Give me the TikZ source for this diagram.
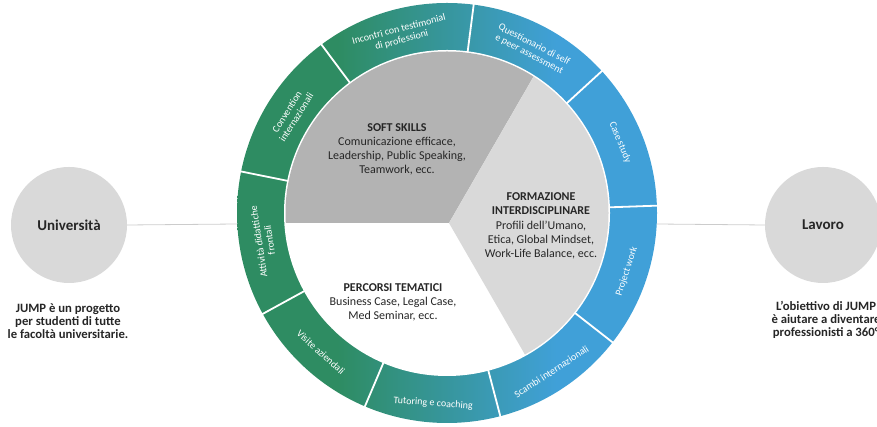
\documentclass[tikz,border=0pt]{standalone}
\usepackage{fontspec}
\setmainfont{Carlito}
\usetikzlibrary{calc}
\definecolor{ringgreen}{HTML}{2E8C62}
\definecolor{ringblue}{HTML}{40A0D8}
\definecolor{darkg}{HTML}{B3B3B3}
\definecolor{lightg}{HTML}{D9D9D9}
\definecolor{circg}{HTML}{D9D9D9}
\definecolor{lineg}{HTML}{CCCCCC}
\definecolor{txt}{HTML}{262626}
\pgfdeclarehorizontalshading{ringshade}{100bp}{color(0bp)=(ringgreen); color(37bp)=(ringgreen); color(63bp)=(ringblue); color(100bp)=(ringblue)}
\tikzset{
  sidecircle/.style={circle, fill=circg, minimum size=116pt, inner sep=0pt, text=txt, font=\fontsize{15}{17}\selectfont\bfseries},
  sidetext/.style={align=center, inner sep=0pt, text=txt, font=\fontsize{12.7}{13}\selectfont\bfseries},
  conn/.style={draw=lineg, line width=0.8pt},
  divider/.style={draw=white, line width=1.8pt},
  pietext/.style={align=center, inner sep=0pt, text=txt, font=\fontsize{12}{14.2}\selectfont},
  seglabel/.style={align=center, inner sep=0pt, text=white, font=\fontsize{10}{11}\selectfont}
}
\begin{document}
\begin{tikzpicture}[x=1pt,y=1pt]
\clip (0,0) rectangle (877,427);
\coordinate (C) at (447,214);
\coordinate (V) at (449,204);
% side circles
\node[sidecircle] (uni) at (69,202) {Università};
\node[sidecircle] (lav) at (823,202) {Lavoro};
\coordinate (ringL) at (237.3,203);
\coordinate (ringR) at (656.7,203);
\draw[conn] (uni.east) -- (ringL);
\draw[conn] (ringR) -- (lav.west);
\node[sidetext] (unitxt) at (68,106) {JUMP è un progetto\\per studenti di tutte\\le facoltà universitarie.};
\node[sidetext] (lavtxt) at (826,107) {L’obiettivo di JUMP\\è aiutare a diventare\\professionisti a 360°};
% ring
\shade[shading=ringshade] (C) circle (210);
\fill[white] (C) circle (163);
\begin{scope}
  \clip (C) circle (161.5);
  \fill[darkg] (V) -- +(60:400) -- +(120:400) -- +(180:400) -- cycle;
  \fill[lightg] (V) -- +(60:400) -- +(0:400) -- +(-60:400) -- cycle;
\end{scope}
\foreach \a in {82.7,42.5,2,-38,-75.3,-113,-151.3,168.6,126.7}
  \draw[divider] ([shift={(\a:162)}]C) -- ([shift={(\a:213)}]C);
% segment labels
\node[seglabel, rotate=14.7] (s1) at ([shift={(104.7:184)}]C) {Incontri con testimonial\\di professioni};
\node[seglabel, rotate=-27.4] (s2) at ([shift={(62.6:184)}]C) {Questionario di self\\e peer assessment};
\node[seglabel, rotate=-67.75] (s3) at ([shift={(22.25:187)}]C) {Case study};
\node[seglabel, rotate=72] (s4) at ([shift={(-18:189)}]C) {Project work};
\node[seglabel, rotate=33.35] (s5) at ([shift={(-56.65:190)}]C) {Scambi internazionali};
\node[seglabel, rotate=-4.15] (s6) at ([shift={(-94.15:191)}]C) {Tutoring e coaching};
\node[seglabel, rotate=-42.15] (s7) at ([shift={(-132.15:188)}]C) {Visite aziendali};
\node[seglabel, rotate=98.65] (s8) at ([shift={(188.65:185)}]C) {Attività didattiche\\frontali};
\node[seglabel, rotate=57.65] (s9) at ([shift={(147.65:184)}]C) {Convention\\internazionali};
% pie texts
\node[pietext] (soft) at (397,277.5) {\textbf{SOFT SKILLS}\\Comunicazione efficace,\\Leadership, Public Speaking,\\Teamwork, ecc.};
\node[pietext] (form) at (541,201) {\textbf{FORMAZIONE}\\\textbf{INTERDISCIPLINARE}\\Profili dell’Umano,\\Etica, Global Mindset,\\Work-Life Balance, ecc.};
\node[pietext] (perc) at (393,124.5) {\textbf{PERCORSI TEMATICI}\\Business Case, Legal Case,\\Med Seminar, ecc.};
\end{tikzpicture}
\end{document}
